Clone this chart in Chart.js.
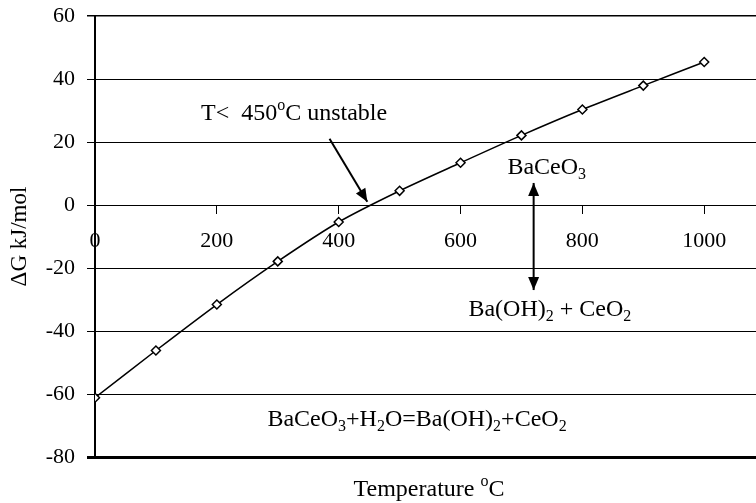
<!DOCTYPE html>
<html lang="en">
<head>
    <title>BaCeO3 stability</title>
    <meta charset="utf-8">
    <script src="https://cdn.jsdelivr.net/npm/chart.js@4.4.1/dist/chart.umd.min.js"></script>
    <style>
        body { margin: 0; background: #fff; }
        .outer { width: 756px; height: 503px; overflow: hidden; }
        /* a few px wider than the window: the plot runs off the right edge like the original */
        .chart-container { width: 762px; height: 503px; position: relative; }
    </style>
</head>
<body>
<div class="outer">
<div class="chart-container">
    <canvas id="dg"></canvas>
</div>
</div>
<script>
    // data
    const temps = [0, 100, 200, 300, 400, 500, 600, 700, 800, 900, 1000];
    const deltaG = [-61.2, -46.2, -31.6, -17.9, -5.4, 4.5, 13.4, 22.1, 30.3, 37.9, 45.4];
    const yTitle = '\u0394G kJ/mol';

    const FONT = '"Liberation Serif", "Times New Roman", serif';

    // text pieces: [text, 'sub' | 'sup' | '']
    const notes = [
        { x: 174, y: 27, parts: [['T<  450', ''], ['o', 'sup'], ['C unstable', '']] },
        { x: 677, y: 10, parts: [['BaCeO', ''], ['3', 'sub']] },
        { x: 613, y: -35.3, parts: [['Ba(OH)', ''], ['2', 'sub'], [' + CeO', ''], ['2', 'sub']] },
        { x: 283, y: -70.2, parts: [['BaCeO', ''], ['3', 'sub'], ['+H', ''], ['2', 'sub'], ['O=Ba(OH)', ''], ['2', 'sub'], ['+CeO', ''], ['2', 'sub']] }
    ];
    const arrows = [
        { from: [385, 21], to: [447, 1], both: false },
        { from: [720, -27], to: [720, 7], both: true }
    ];

    function drawParts(ctx, x, y, parts) {
        let cx = x;
        parts.forEach(([txt, mode]) => {
            if (mode === 'sub') {
                ctx.font = '16px ' + FONT;
                ctx.fillText(txt, cx, y + 5);
            } else if (mode === 'sup') {
                ctx.font = '16px ' + FONT;
                ctx.fillText(txt, cx, y - 10);
            } else {
                ctx.font = '24px ' + FONT;
                ctx.fillText(txt, cx, y);
            }
            cx += ctx.measureText(txt).width;
        });
        return cx - x;
    }

    function head(ctx, x1, y1, x2, y2) {
        const a = Math.atan2(y2 - y1, x2 - x1);
        const len = 13, w = 5.5;
        ctx.beginPath();
        ctx.moveTo(x2, y2);
        ctx.lineTo(x2 - len * Math.cos(a) + w * Math.sin(a), y2 - len * Math.sin(a) - w * Math.cos(a));
        ctx.lineTo(x2 - len * Math.cos(a) - w * Math.sin(a), y2 - len * Math.sin(a) + w * Math.cos(a));
        ctx.closePath();
        ctx.fill();
    }

    const notesPlugin = {
        id: 'notes',
        beforeDraw(chart) {
            const c = chart.ctx;
            c.save();
            c.fillStyle = '#fff';
            c.fillRect(0, 0, chart.width, chart.height);
            c.restore();
        },
        afterDraw(chart) {
            const c = chart.ctx;
            const xs = chart.scales.x, ys = chart.scales.y;
            c.save();
            c.fillStyle = '#000';
            c.strokeStyle = '#000';
            c.textBaseline = 'alphabetic';
            c.textAlign = 'left';
            notes.forEach(n => drawParts(c, xs.getPixelForValue(n.x), ys.getPixelForValue(n.y), n.parts));

            arrows.forEach(a => {
                const x1 = xs.getPixelForValue(a.from[0]), y1 = ys.getPixelForValue(a.from[1]);
                const x2 = xs.getPixelForValue(a.to[0]), y2 = ys.getPixelForValue(a.to[1]);
                c.lineWidth = 2;
                c.beginPath();
                c.moveTo(x1, y1);
                c.lineTo(x2, y2);
                c.stroke();
                head(c, x1, y1, x2, y2);
                if (a.both) head(c, x2, y2, x1, y1);
            });

            // x axis title, centred under the plot
            const parts = [['Temperature ', ''], ['o', 'sup'], ['C', '']];
            c.globalAlpha = 0;
            const w = drawParts(c, 0, 0, parts);
            c.globalAlpha = 1;
            drawParts(c, 429 - w / 2, 496, parts);
            c.restore();
        }
    };

    const ctx = document.getElementById('dg').getContext('2d');
    new Chart(ctx, {
        type: 'line',
        data: {
            datasets: [{
                data: temps.map((t, i) => ({ x: t, y: deltaG[i] })),
                borderColor: '#000',
                borderWidth: 1.5,
                tension: 0.3,
                pointStyle: 'rectRot',
                pointRadius: 4.5,
                pointBackgroundColor: '#fff',
                pointBorderColor: '#000',
                pointBorderWidth: 1.5,
                fill: false
            }]
        },
        options: {
            responsive: true,
            maintainAspectRatio: false,
            animation: false,
            layout: { padding: { top: 16, bottom: 46, left: 0, right: 0 } },
            plugins: {
                legend: { display: false },
                tooltip: { enabled: false }
            },
            scales: {
                x: {
                    type: 'linear',
                    min: 0,
                    max: 1085,
                    position: { y: 0 },
                    afterFit: s => { s.paddingLeft = 0; s.paddingRight = 0; },
                    grid: { drawOnChartArea: false, drawTicks: true, tickLength: 8, color: '#000' },
                    border: { display: true, color: '#000', width: 1 },
                    ticks: {
                        stepSize: 200,
                        includeBounds: false,
                        color: '#000',
                        padding: 15,
                        maxRotation: 0,
                        callback: v => String(v),
                        font: { family: FONT, size: 22 }
                    }
                },
                y: {
                    min: -80,
                    max: 60,
                    afterFit: s => { s.width = 95; s.paddingTop = 0; s.paddingBottom = 0; },
                    grid: {
                        color: '#000',
                        lineWidth: c => c.tick && c.tick.value === -80 ? 3 : (c.tick && c.tick.value === 60 ? 1.5 : 1),
                        drawTicks: true,
                        tickLength: 8
                    },
                    border: { display: true, color: '#000', width: 2 },
                    ticks: {
                        stepSize: 20,
                        color: '#000',
                        padding: 12,
                        font: { family: FONT, size: 22 }
                    },
                    title: {
                        display: true,
                        text: yTitle,
                        color: '#000',
                        padding: { top: 6, bottom: 0 },
                        font: { family: FONT, size: 23 }
                    }
                }
            }
        },
        plugins: [notesPlugin]
    });
</script>
</body>
</html>
